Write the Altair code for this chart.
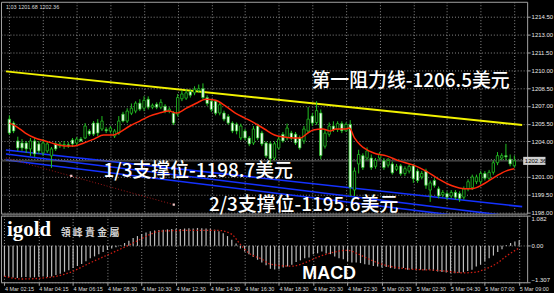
import altair as alt
import pandas as pd

# ---- 15-minute XAU/USD candles, index 0 = 4 Mar 02:15 ----
opens = [1205.88, 1205.55, 1204.04, 1203.87, 1203.87, 1203.37, 1204.04, 1203.79, 1203.03, 1203.20,
         1202.78, 1203.79, 1203.62, 1203.70, 1203.72, 1204.12, 1203.87, 1204.20, 1204.29, 1204.88,
         1205.55, 1205.55, 1205.05, 1205.00, 1204.88, 1204.46, 1204.71, 1206.30, 1205.72, 1206.38,
         1206.56, 1207.23, 1206.80, 1207.56, 1206.89, 1207.14, 1206.89, 1206.97, 1206.56, 1206.38,
         1206.30, 1207.60, 1207.65, 1208.20, 1208.10, 1208.30, 1208.45, 1207.70, 1207.40, 1207.39,
         1206.40, 1206.40, 1206.10, 1205.55, 1205.46, 1204.30, 1204.88, 1204.29, 1203.87, 1205.30,
         1204.71, 1203.87, 1203.80, 1202.60, 1203.45, 1204.60, 1204.30, 1204.71, 1204.62, 1204.29,
         1204.04, 1204.88, 1206.14, 1205.60, 1206.40, 1203.60, 1204.60, 1205.30, 1205.00, 1205.50,
         1204.90, 1205.44, 1199.90, 1202.10, 1202.80, 1202.60, 1202.60, 1201.90, 1202.60, 1202.36,
         1202.00, 1202.10, 1201.65, 1201.94, 1201.30, 1201.50, 1201.94, 1201.50, 1201.00, 1201.50,
         1199.90, 1200.70, 1200.00, 1199.50, 1199.60, 1199.40, 1199.70, 1199.60, 1199.30, 1200.00,
         1200.10, 1200.60, 1200.60, 1201.30, 1200.90, 1201.40, 1202.20, 1202.60, 1202.80, 1202.50,
         1201.95]
highs = [1206.20, 1205.70, 1204.40, 1204.20, 1204.04, 1204.29, 1204.29, 1204.04, 1204.20, 1203.95,
         1203.53, 1203.95, 1203.95, 1204.04, 1203.95, 1204.29, 1204.37, 1204.37, 1205.55, 1205.05,
         1205.72, 1205.88, 1206.14, 1205.20, 1205.30, 1205.05, 1206.14, 1206.50, 1206.80, 1207.20,
         1207.39, 1207.56, 1207.81, 1207.80, 1207.20, 1207.30, 1207.56, 1207.14, 1206.89, 1206.56,
         1208.00, 1208.30, 1208.40, 1208.40, 1208.65, 1208.80, 1208.90, 1207.90, 1207.60, 1207.50,
         1207.30, 1206.60, 1206.30, 1205.70, 1205.60, 1205.50, 1205.05, 1204.46, 1205.30, 1205.50,
         1204.90, 1204.00, 1204.00, 1204.00, 1204.40, 1204.80, 1205.50, 1204.90, 1204.80, 1204.50,
         1205.30, 1206.90, 1206.40, 1207.40, 1206.70, 1205.00, 1205.60, 1205.70, 1205.70, 1205.70,
         1205.60, 1205.80, 1201.80, 1203.30, 1203.00, 1203.50, 1202.90, 1202.60, 1203.10, 1202.60,
         1202.60, 1202.30, 1202.10, 1202.10, 1201.90, 1202.10, 1202.10, 1201.70, 1201.50, 1201.70,
         1200.70, 1200.90, 1200.20, 1199.90, 1199.80, 1199.90, 1199.90, 1199.80, 1200.20, 1200.80,
         1201.20, 1201.20, 1201.50, 1201.50, 1201.60, 1202.40, 1203.10, 1203.00, 1203.80, 1202.90,
         1202.80]
lows = [1204.55, 1204.70, 1203.20, 1203.20, 1203.03, 1202.78, 1202.70, 1202.95, 1202.78, 1203.03,
        1201.77, 1203.20, 1203.45, 1203.37, 1203.45, 1203.53, 1203.70, 1203.95, 1204.20, 1204.46,
        1204.46, 1204.46, 1204.88, 1204.70, 1204.70, 1204.29, 1204.55, 1205.60, 1205.55, 1206.22,
        1206.38, 1206.56, 1206.56, 1206.70, 1206.72, 1206.72, 1206.72, 1206.38, 1206.38, 1205.38,
        1206.10, 1207.40, 1207.50, 1207.70, 1207.90, 1208.10, 1207.55, 1207.00, 1206.50, 1206.20,
        1206.20, 1205.70, 1205.40, 1204.70, 1204.60, 1204.10, 1204.10, 1203.60, 1203.70, 1204.10,
        1203.60, 1202.60, 1201.95, 1202.40, 1203.30, 1203.90, 1204.10, 1204.10, 1203.70, 1203.30,
        1203.80, 1204.70, 1205.30, 1205.40, 1202.50, 1203.40, 1204.40, 1204.80, 1204.80, 1204.70,
        1204.80, 1199.40, 1199.40, 1201.30, 1201.60, 1202.40, 1201.60, 1201.70, 1202.40, 1201.60,
        1201.80, 1201.20, 1201.50, 1201.10, 1201.10, 1201.30, 1200.50, 1200.50, 1200.80, 1200.00,
        1198.90, 1200.10, 1199.20, 1199.30, 1199.10, 1199.20, 1199.10, 1198.90, 1199.10, 1199.80,
        1199.90, 1200.40, 1200.40, 1200.70, 1200.70, 1201.20, 1202.00, 1202.40, 1202.40, 1201.90,
        1201.80]
closes = [1204.71, 1204.88, 1203.45, 1203.45, 1203.37, 1204.04, 1202.95, 1203.20, 1203.87, 1203.79,
          1203.37, 1203.37, 1203.79, 1203.75, 1203.62, 1203.79, 1204.20, 1204.04, 1205.30, 1204.62,
          1204.62, 1204.71, 1205.72, 1204.90, 1205.13, 1204.88, 1205.72, 1205.72, 1206.56, 1206.80,
          1207.23, 1206.72, 1207.47, 1206.89, 1207.05, 1206.89, 1207.30, 1206.56, 1206.72, 1205.55,
          1207.70, 1208.00, 1208.10, 1207.90, 1208.40, 1208.45, 1207.70, 1207.20, 1206.70, 1206.38,
          1207.10, 1205.88, 1205.55, 1204.88, 1204.88, 1205.30, 1204.29, 1203.79, 1205.05, 1204.29,
          1203.79, 1202.78, 1202.53, 1203.80, 1204.20, 1204.04, 1205.13, 1204.29, 1203.87, 1203.45,
          1205.05, 1205.88, 1205.55, 1206.60, 1202.80, 1204.70, 1205.30, 1205.00, 1205.50, 1204.90,
          1205.44, 1200.12, 1201.50, 1202.90, 1201.80, 1203.20, 1201.80, 1202.40, 1202.90, 1201.80,
          1202.40, 1201.35, 1201.90, 1201.27, 1201.70, 1201.90, 1200.85, 1200.70, 1201.30, 1200.30,
          1200.50, 1200.30, 1199.40, 1199.70, 1199.30, 1199.70, 1199.30, 1199.20, 1200.00, 1200.60,
          1201.00, 1201.00, 1201.30, 1200.90, 1201.40, 1202.20, 1202.80, 1202.80, 1202.70, 1202.10,
          1202.36]

# moving average (red)
ma_idx = [0, 1.5, 3.8, 6.1, 8.5, 10.8, 13.1, 15.4, 17.7, 20.1, 22.4, 24.7, 25.9, 28.6, 31.0, 33.3,
          35.6, 37.9, 39.8, 42.1, 44.4, 46.7, 49.0, 51.4, 53.7, 56.0, 58.3, 60.6, 63.0, 65.3, 67.6,
          69.2, 70.6, 72.2, 74.5, 76.2, 77.6, 79.9, 80.8, 82.0, 83.4, 86.6, 89.6, 92.6, 95.9, 98.9,
          101.9, 105.2, 108.2, 109.8, 112.8, 115.8, 118.1, 120.0]
ma_val = [1205.55, 1205.30, 1204.71, 1204.29, 1204.04, 1203.79, 1203.62, 1203.62, 1203.87, 1204.20,
          1204.54, 1204.54, 1204.71, 1205.30, 1205.72, 1206.14, 1206.39, 1206.56, 1206.39, 1206.81,
          1207.22, 1207.56, 1207.47, 1206.97, 1206.39, 1205.97, 1205.55, 1205.05, 1204.54, 1204.37,
          1204.29, 1204.29, 1204.62, 1204.96, 1205.05, 1204.88, 1205.05, 1205.05, 1205.13, 1204.30,
          1203.70, 1203.03, 1202.78, 1202.36, 1202.02, 1201.52, 1200.85, 1200.26, 1200.01, 1200.01,
          1200.43, 1201.10, 1201.52, 1201.69]

# MACD main (histogram) and signal (dotted)
macd_hist = [-1.10, -1.12, -1.14, -1.15, -1.13, -1.12, -1.14, -1.13, -1.11, -1.10, -1.12, -1.10,
             -1.05, -1.00, -0.93, -0.88, -0.80, -0.72, -0.65, -0.55, -0.45, -0.38, -0.30, -0.22,
             -0.15, -0.10, -0.05, 0.02, 0.10, 0.18, 0.28, 0.35, 0.42, 0.48, 0.52, 0.55, 0.57, 0.58,
             0.59, 0.60, 0.61, 0.60, 0.62, 0.63, 0.62, 0.64, 0.63, 0.62, 0.60, 0.58, 0.52, 0.45,
             0.35, 0.22, 0.08, -0.10, -0.20, -0.30, -0.40, -0.50, -0.60, -0.70, -0.82, -0.85, -0.84,
             -0.78, -0.74, -0.68, -0.58, -0.52, -0.45, -0.42, -0.30, -0.27, -0.20, -0.28, -0.30,
             -0.38, -0.45, -0.48, -0.55, -0.60, -0.60, -0.62, -0.66, -0.68, -0.72, -0.74, -0.78,
             -0.76, -0.80, -0.82, -0.84, -0.80, -0.86, -0.84, -0.85, -0.86, -0.88, -0.86, -0.90,
             -0.92, -0.94, -0.96, -0.98, -0.98, -0.97, -0.95, -0.90, -0.86, -0.74, -0.68, -0.55,
             -0.45, -0.35, -0.22, -0.12, 0.03, 0.10, 0.15, 0.20]
sig_idx = [0, 4, 11, 15, 20, 25, 30, 34, 36, 42, 50, 53, 55, 57, 60, 62, 67, 70, 73, 76, 80, 82,
           85, 88, 92, 96, 100, 103, 107, 110, 112, 115, 117, 120]
sig_val = [-1.09, -1.19, -1.12, -0.97, -0.61, -0.26, 0.10, 0.41, 0.52, 0.55, 0.55, 0.41, 0.05,
           -0.26, -0.48, -0.66, -0.73, -0.61, -0.41, -0.26, -0.16, -0.26, -0.48, -0.66, -0.79,
           -0.85, -0.87, -0.91, -0.97, -0.94, -0.84, -0.61, -0.37, -0.08]

time_labels = ["4 Mar 02:15", "4 Mar 04:15", "4 Mar 06:15", "4 Mar 08:30", "4 Mar 10:30",
               "4 Mar 12:30", "4 Mar 14:30", "4 Mar 16:30", "4 Mar 18:30", "4 Mar 20:30",
               "4 Mar 22:30", "5 Mar 00:30", "5 Mar 02:30", "5 Mar 04:30", "5 Mar 07:00",
               "5 Mar 09:00"]
time_idx = [0, 8, 16, 24, 32, 40, 48, 56, 64, 72, 80, 88, 96, 104, 112, 120]
price_ticks = [1198.0, 1199.5, 1201.0, 1202.5, 1204.0, 1205.5, 1207.0, 1208.5, 1210.0, 1211.5,
               1213.0, 1214.5]
macd_ticks = [-1.307, 0.0, 1.082]
last_price = 1202.36
ohlc_text = "1.03 1201.68 1202.36"

# drawn trend lines: (start index, start price, end index, end price)
resistance = [(-0.81, 1209.91, 121.86, 1205.38)]
support_lines = [(-0.81, 1203.28, 121.86, 1198.50),
                 (-0.81, 1202.94, 121.86, 1197.58),
                 (-0.81, 1202.44, 121.86, 1197.07)]
dotted_trend = [(-0.81, 1202.61, 39.07, 1198.67)]
trend_handles_k = [14.7, 39.07]
trend_handles_p = [1201.10, 1198.67]

labels_main = ["第一阻力线-1206.5美元", "1/3支撑位-1198.7美元", "2/3支撑位-1195.6美元"]

# ---------------- styling ----------------
GREEN = "#22c322"
GRID = "#8a8a8a"
BORDER = "#a3a3a3"
CJK = "Noto Sans CJK SC"

XS = alt.Scale(domain=[-0.81, 121.86], nice=False, zero=False)
YS = alt.Scale(domain=[1197.91, 1215.78], nice=False, zero=False)
MS = alt.Scale(domain=[-1.307, 1.082], nice=False, zero=False)

x_axis_top = alt.Axis(values=time_idx, grid=True, gridColor=GRID, gridDash=[1, 2],
                      labels=False, ticks=False, domain=False, title=None)
y_axis_top = alt.Axis(orient="right", values=price_ticks, grid=True, gridColor=GRID,
                      gridDash=[1, 2],
                      labelExpr="datum.value == 1202.5 ? '' : format(datum.value, '.2f')",
                      labelFontSize=6, labelColor="#e8e8e8", labelFont="Liberation Sans",
                      labelPadding=1, labelFlush=False, labelOverlap=False,
                      tickSize=3, tickColor=BORDER, domain=False, title=None)

label_js = "[" + ",".join("'%s'" % t for t in time_labels) + "]"
x_axis_bot = alt.Axis(values=time_idx, grid=True, gridColor=GRID, gridDash=[1, 2],
                      labelExpr=label_js + "[round(datum.value / 8)]",
                      labelAlign="left", labelBaseline="top", labelFontSize=5.5,
                      labelColor="#dcdcdc", labelFont="Liberation Sans", labelPadding=1,
                      labelFlush=False, labelOverlap=False, tickSize=3, tickColor=BORDER,
                      domain=False, title=None)
y_axis_bot = alt.Axis(orient="right", values=macd_ticks, grid=True, gridColor=GRID,
                      gridDash=[1, 2],
                      labelExpr="datum.value == 0 ? '0.00' : format(datum.value, '.3f')",
                      labelFontSize=6, labelColor="#e8e8e8", labelFont="Liberation Sans",
                      labelPadding=1, labelFlush=True, labelOverlap=False,
                      tickSize=3, tickColor=BORDER, domain=False, title=None)


def X(field="k"):
    return alt.X(f"{field}:Q", scale=XS, axis=x_axis_top)


def Y(field="p"):
    return alt.Y(f"{field}:Q", scale=YS, axis=y_axis_top)


def XB(field="k"):
    return alt.X(f"{field}:Q", scale=XS, axis=x_axis_bot)


def YB(field="v"):
    return alt.Y(f"{field}:Q", scale=MS, axis=y_axis_bot)


def segments(rows):
    recs = []
    for i, (k0, p0, k1, p1) in enumerate(rows):
        recs.append({"id": i, "k": k0, "p": p0})
        recs.append({"id": i, "k": k1, "p": p1})
    return pd.DataFrame(recs)


# ---------------- main price panel ----------------
cdf = pd.DataFrame({"k": range(len(opens)), "o": opens, "h": highs, "l": lows, "c": closes})
cdf["lo"] = cdf[["o", "c"]].min(axis=1)
cdf["hi"] = cdf[["o", "c"]].max(axis=1)
cdf["dir"] = ["up" if c >= o else "down" for o, c in zip(opens, closes)]

support = alt.Chart(segments(support_lines)).mark_line(
    color="#1432ff", strokeWidth=1.6, clip=True).encode(x=X(), y=Y(), detail="id:N")
resist = alt.Chart(segments(resistance)).mark_line(
    color="#f2f200", strokeWidth=2).encode(x=X(), y=Y(), detail="id:N")
dtrend = alt.Chart(segments(dotted_trend)).mark_line(
    color="#a01818", strokeWidth=1, strokeDash=[1, 2]).encode(x=X(), y=Y(), detail="id:N")
handles = alt.Chart(pd.DataFrame({"k": trend_handles_k, "p": trend_handles_p})).mark_square(
    size=5, color="#f0c8c8", opacity=1).encode(x=X(), y=Y())
price_line = alt.Chart(pd.DataFrame({"p": [last_price]})).mark_rule(
    color="#6a6a6a", strokeWidth=1).encode(y=Y())

wicks = alt.Chart(cdf).mark_rule(color=GREEN, strokeWidth=1).encode(x=X(), y=Y("l"), y2="h")
bodies = alt.Chart(cdf).mark_bar(size=2.4, stroke=GREEN, strokeWidth=0.8).encode(
    x=X(), y=Y("lo"), y2="hi",
    fill=alt.Color("dir:N", scale=alt.Scale(domain=["up", "down"], range=["black", "white"]),
                   legend=None))
ma = alt.Chart(pd.DataFrame({"k": ma_idx, "p": ma_val})).mark_line(
    color="#ff2a0a", strokeWidth=1.5, interpolate="monotone").encode(x=X(), y=Y())

ann = pd.DataFrame({"k": [71.77, 22.38, 47.42], "p": [1209.07, 1201.52, 1198.62],
                    "t": labels_main})
ann_text = alt.Chart(ann).mark_text(
    align="left", baseline="middle", font=CJK, fontSize=19, fontWeight=500,
    color="white").encode(x=X(), y=Y(), text="t:N")

ohlc = alt.Chart(pd.DataFrame({"k": [-0.81], "p": [1215.36], "t": [ohlc_text]})).mark_text(
    align="left", baseline="middle", font="Liberation Sans", fontSize=5.5,
    color="#d8d8d8").encode(x=X(), y=Y(), text="t:N")

box = alt.Chart(pd.DataFrame({"k0": [122.1], "k1": [127.4], "p0": [last_price - 0.34],
                              "p1": [last_price + 0.34]})).mark_rect(
    color="#cfcfcf").encode(x=X("k0"), x2="k1", y=Y("p0"), y2="p1")
box_text = alt.Chart(pd.DataFrame({"k": [122.5], "p": [last_price],
                                   "t": [f"{last_price:.2f}"]})).mark_text(
    align="left", baseline="middle", font="Liberation Sans", fontSize=6,
    color="black").encode(x=X(), y=Y(), text="t:N")

top = alt.layer(support, resist, dtrend, handles, price_line, wicks, bodies, ma,
                ann_text, ohlc, box, box_text).properties(width=529, height=213)

# ---------------- MACD panel ----------------
mdf = pd.DataFrame({"k": range(len(macd_hist)), "v": macd_hist, "z": 0.0})
hist = alt.Chart(mdf).mark_rule(color="#bdbdbd", strokeWidth=1.2).encode(
    x=XB(), y=YB("z"), y2="v")
sig = alt.Chart(pd.DataFrame({"k": sig_idx, "v": sig_val})).mark_line(
    color="#cc1c12", strokeWidth=1.3, strokeDash=[1.5, 2],
    interpolate="monotone").encode(x=XB(), y=YB())

macd_title = alt.Chart(pd.DataFrame({"k": [69.45], "v": [-1.02], "t": ["MACD"]})).mark_text(
    align="left", baseline="middle", font="Liberation Sans", fontSize=18, fontWeight="bold",
    color="white").encode(x=XB(), y=YB(), text="t:N")
logo = alt.Chart(pd.DataFrame({"k": [0.6], "v": [0.58], "t": ["igold"]})).mark_text(
    align="left", baseline="middle", font="Liberation Serif", fontSize=21, fontWeight="bold",
    color="white").encode(x=XB(), y=YB(), text="t:N")
logo_cn = alt.Chart(pd.DataFrame({"k": [13.1], "v": [0.47], "t": ["領 峰 貴 金 屬"]})).mark_text(
    align="left", baseline="middle", font="Noto Sans CJK TC", fontSize=10, fontWeight="bold",
    color="#d4d4d4").encode(x=XB(), y=YB(), text="t:N")

bot = alt.layer(hist, sig, logo, logo_cn, macd_title).properties(width=529, height=67)

chart = alt.vconcat(top, bot, spacing=2, bounds="flush").resolve_scale(
    x="independent", y="independent", fill="independent").properties(
    padding=0, background="black").configure_view(stroke=BORDER, strokeWidth=1)

chart.save("out.html", embed_options={"renderer": "svg", "actions": False})
